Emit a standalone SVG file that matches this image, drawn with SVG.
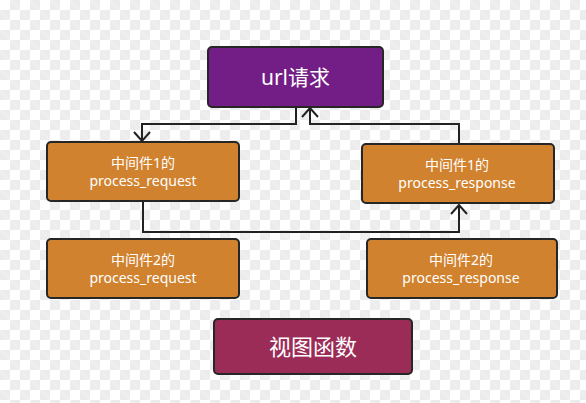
<svg xmlns="http://www.w3.org/2000/svg" width="586" height="403" viewBox="0 0 586 403">
  <defs>
    <pattern id="checker" width="20" height="20" patternUnits="userSpaceOnUse">
      <rect width="20" height="20" fill="#ffffff"/>
      <rect x="10" y="0" width="10" height="10" fill="#ececec"/>
      <rect x="0" y="10" width="10" height="10" fill="#ececec"/>
      <path d="M10,0 L20,10 M0,10 L10,20" stroke="#f6f6f6" stroke-width="0.8"/>
    </pattern>
    <marker id="arrow" markerUnits="userSpaceOnUse" markerWidth="20" markerHeight="20" refX="10" refY="10" orient="auto" viewBox="0 0 20 20">
      <path d="M1,2 L10,10 L1,18" fill="none" stroke="#222222" stroke-width="2"/>
    </marker>
  </defs>
  <style>
    .box { stroke: #262626; stroke-width: 2; }
    .mid { fill: #D1822E; }
    .txt { fill: #ffffff; font-family: "Noto Sans", "Noto Sans CJK SC", sans-serif; text-anchor: middle; }
    .small { font-size: 14px; }
    .big { font-size: 21px; }
    .view { font-size: 22px; }
    .conn { fill: none; stroke: #222222; stroke-width: 2; }
  </style>
  <rect width="586" height="403" fill="url(#checker)"/>

  <g id="connectors">
    <path class="conn" d="M296,107 V124 H142 V141" marker-end="url(#arrow)"/>
    <path class="conn" d="M459,144 V124 H310 V108" marker-end="url(#arrow)"/>
    <path class="conn" d="M143,201 V232 H459 V205" marker-end="url(#arrow)"/>
  </g>

  <g id="url">
    <rect class="box" x="208" y="47" width="175" height="60" rx="4" fill="#731E87"/>
    <text class="txt big" x="295.5" y="85">url请求</text>
  </g>

  <g id="mw1-request">
    <rect class="box mid" x="47" y="142" width="192" height="59" rx="4"/>
    <text class="txt small" x="143" y="168">中间件1的</text>
    <text class="txt small" x="143" y="186">process_request</text>
  </g>

  <g id="mw1-response">
    <rect class="box mid" x="362" y="144" width="192" height="59" rx="4"/>
    <text class="txt small" x="457" y="170">中间件1的</text>
    <text class="txt small" x="457" y="188">process_response</text>
  </g>

  <g id="mw2-request">
    <rect class="box mid" x="47" y="239" width="192" height="59" rx="4"/>
    <text class="txt small" x="143" y="265">中间件2的</text>
    <text class="txt small" x="143" y="283">process_request</text>
  </g>

  <g id="mw2-response">
    <rect class="box mid" x="367" y="239" width="190" height="59" rx="4"/>
    <text class="txt small" x="461" y="265">中间件2的</text>
    <text class="txt small" x="461" y="283">process_response</text>
  </g>

  <g id="view">
    <rect class="box" x="214" y="319" width="198" height="55" rx="4" fill="#9B2C57"/>
    <text class="txt view" x="313" y="355">视图函数</text>
  </g>
</svg>
